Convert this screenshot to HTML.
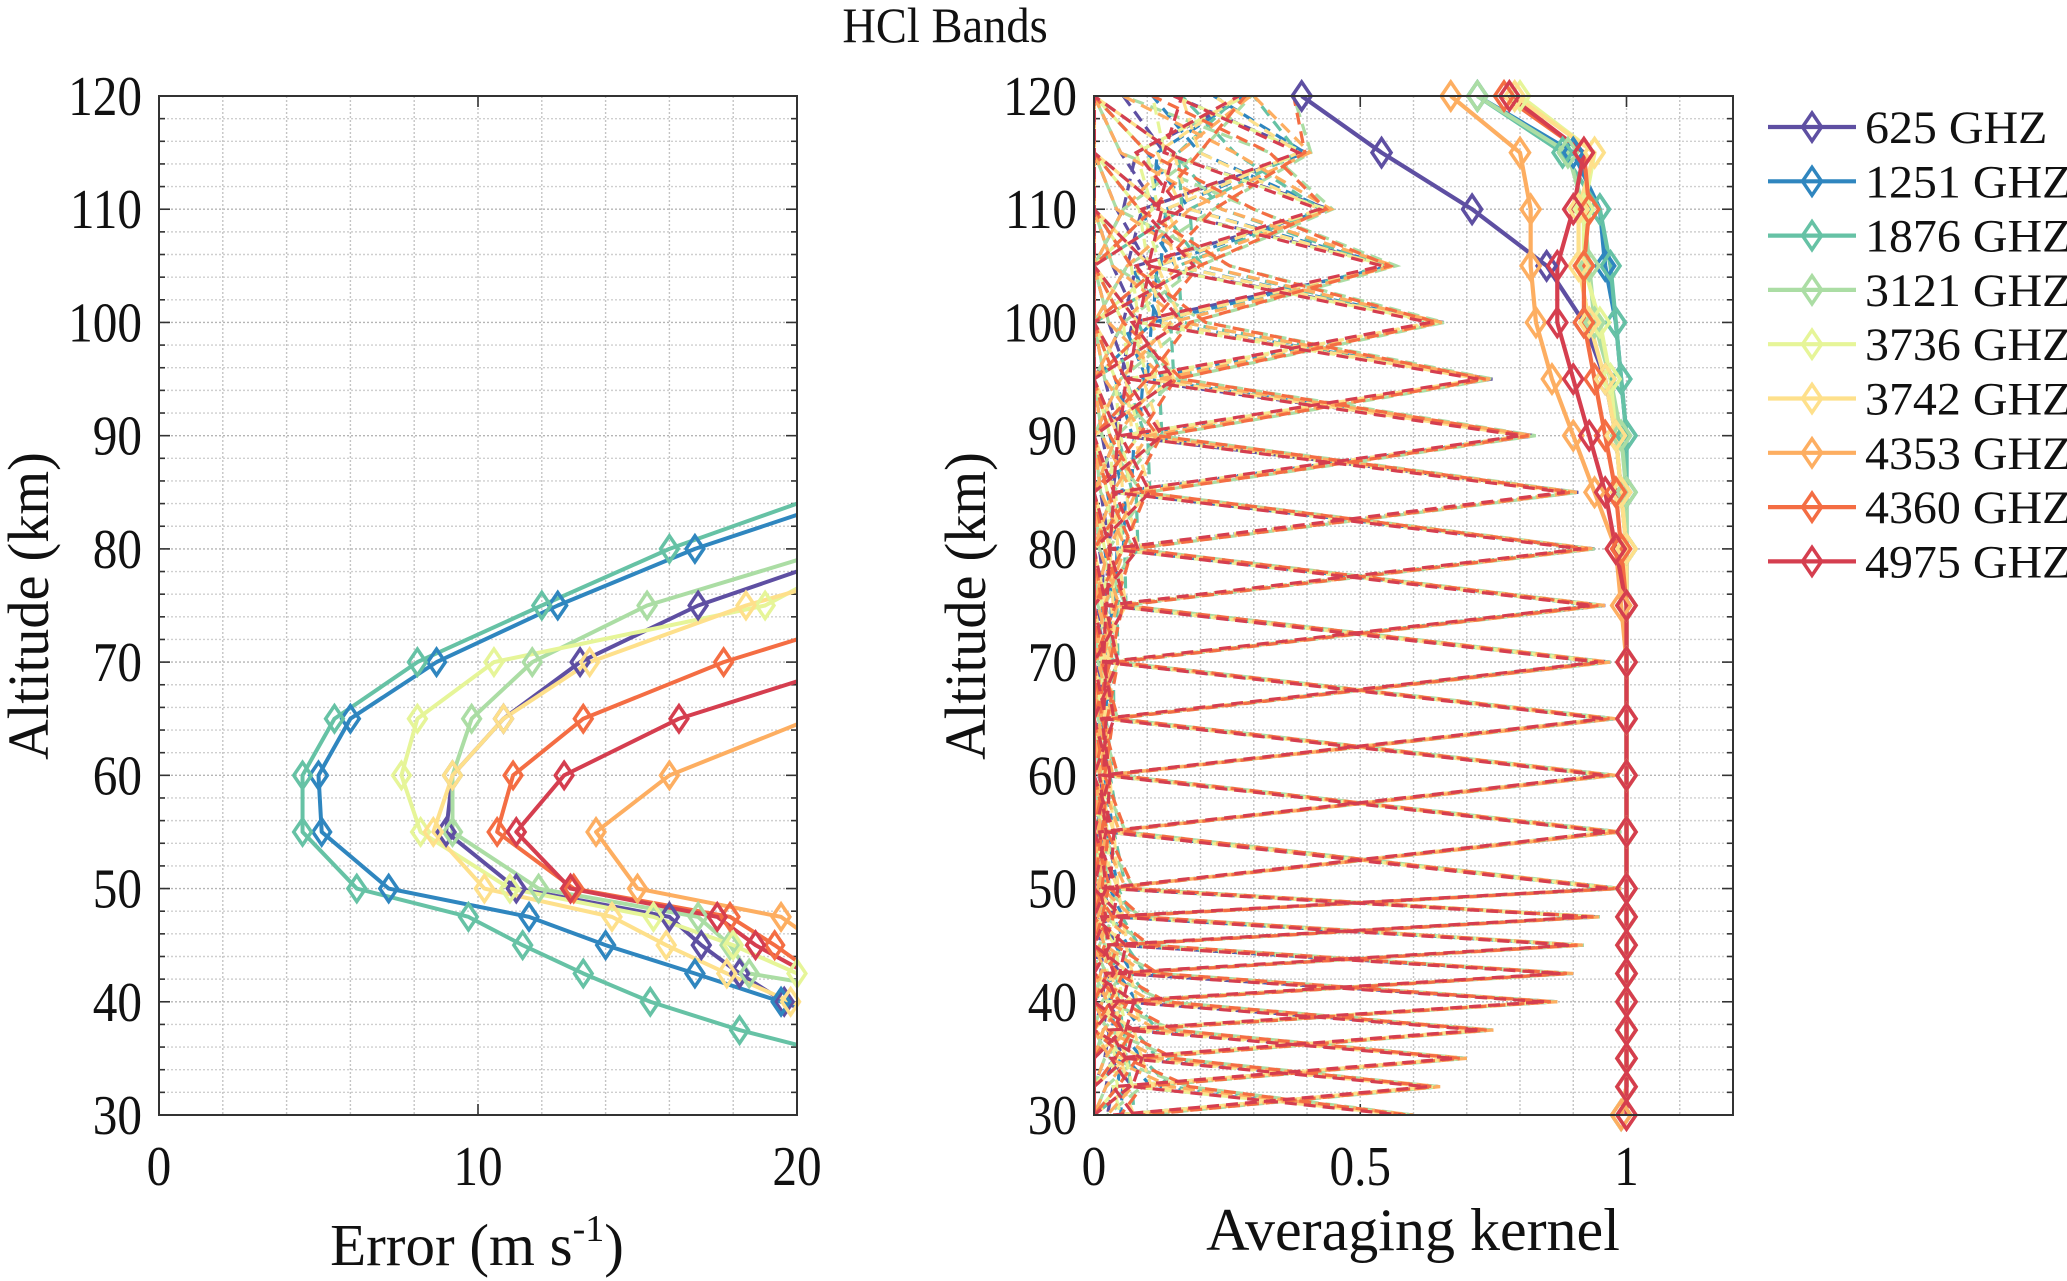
<!DOCTYPE html>
<html><head><meta charset="utf-8"><style>
html,body{margin:0;padding:0;background:#fff;}
svg{display:block;}
text{font-family:"Liberation Serif",serif;fill:#111;}
</style></head><body>
<svg id="chart" width="2067" height="1281" viewBox="0 0 2067 1281" xmlns="http://www.w3.org/2000/svg">
<defs>
<clipPath id="clipL"><rect x="159" y="96" width="638" height="1019"/></clipPath>
<clipPath id="clipR"><rect x="1094" y="96" width="639" height="1019"/></clipPath>
</defs>
<text x="0" y="0" font-size="50" text-anchor="middle" transform="translate(945,42) scale(0.93,1)">HCl Bands</text>
<g id="gL"></g>
<g id="gR"></g>
<g id="gLeg"></g>
</svg>
<script>
const NS="http://www.w3.org/2000/svg";
const seriesNames=["625 GHZ","1251 GHZ","1876 GHZ","3121 GHZ","3736 GHZ","3742 GHZ","4353 GHZ","4360 GHZ","4975 GHZ"];
const colors=["#5e4fa2","#2f86bf","#66c2a5","#abdda4","#e6f598","#fee08b","#fdae61","#f46d43","#d53e4f"];
// Left panel: error (m/s) at altitude (km); [alt, err]
const err625=[[78,20],[75,16.9],[70,13.2],[65,10.8],[60,9.2],[55,9.0],[50,11.2],[47.5,16.0],[45,17.0],[42.5,18.2],[40,19.6],[39.5,20]];
const err1251=[[83,20],[80,16.8],[75,12.5],[70,8.7],[65,6.0],[60,5.0],[55,5.1],[50,7.2],[47.5,11.6],[45,14.0],[42.5,16.8],[40,19.5],[39.7,20]];
const err1876=[[84,20],[80,16.0],[75,12.0],[70,8.1],[65,5.5],[60,4.5],[55,4.5],[50,6.2],[47.5,9.7],[45,11.4],[42.5,13.3],[40,15.4],[37.5,18.2],[36.2,20]];
const err3121=[[79,20],[75,15.3],[70,11.7],[65,9.8],[60,9.2],[55,9.2],[50,11.9],[47.5,16.9],[45,17.9],[42.5,18.5],[41.8,20]];
const err3736=[[76.5,20],[75,19.0],[70,10.5],[65,8.1],[60,7.6],[55,8.2],[50,11.0],[47.5,15.5],[45,18.0],[42.5,20]];
const err3742=[[76.3,20],[75,18.4],[70,13.5],[65,10.8],[60,9.2],[55,8.6],[50,10.2],[47.5,14.2],[45,15.9],[42.5,17.8],[40,19.8],[39.8,20]];
const err4353=[[64.5,20],[60,16.0],[55,13.7],[50,15.0],[47.5,19.5],[46.5,20]];
const err4360=[[72,20],[70,17.7],[65,13.3],[60,11.1],[55,10.6],[50,13.0],[47.5,17.9],[45,19.3],[43.6,20]];
const err4975=[[68.3,20],[65,16.3],[60,12.7],[55,11.2],[50,12.9],[47.5,17.5],[45,18.7],[43,20]];
const errSeries=[err625,err1251,err1876,err3121,err3736,err3742,err4353,err4360,err4975];
const errXTicks=[0,10,20];
const altTicks=[30,40,50,60,70,80,90,100,110,120];
// Right panel
const akAlts=[120,115,110,105,100,95,90,85,80,75,70,65,60,55,50,47.5,45,42.5,40,37.5,35,32.5,30];
const ak625=[0.39,0.54,0.71,0.85,0.92,0.96,0.98,0.99,1,1,1,1,1,1,1,1,1,1,1,1,1,1,0.99];
const ak1251=[0.72,0.90,0.95,0.96,0.98,0.99,1,1,1,1,1,1,1,1,1,1,1,1,1,1,1,1,0.99];
const ak1876=[0.72,0.88,0.95,0.97,0.98,0.99,1,1,1,1,1,1,1,1,1,1,1,1,1,1,1,1,0.99];
const ak3121=[0.72,0.89,0.92,0.93,0.94,0.97,0.99,1,1,1,1,1,1,1,1,1,1,1,1,1,1,1,0.99];
const ak3736=[0.80,0.94,0.92,0.92,0.95,0.97,0.98,0.99,1,1,1,1,1,1,1,1,1,1,1,1,1,1,0.99];
const ak3742=[0.79,0.94,0.91,0.91,0.93,0.96,0.98,0.99,1,1,1,1,1,1,1,1,1,1,1,1,1,1,0.99];
const ak4353=[0.67,0.80,0.82,0.82,0.83,0.86,0.90,0.94,0.98,0.99,1,1,1,1,1,1,1,1,1,1,1,1,0.99];
const ak4360=[0.77,0.92,0.93,0.92,0.92,0.94,0.96,0.98,0.99,1,1,1,1,1,1,1,1,1,1,1,1,1,1];
const ak4975=[0.78,0.92,0.90,0.87,0.87,0.90,0.93,0.96,0.98,1,1,1,1,1,1,1,1,1,1,1,1,1,1];
const akSeries=[ak625,ak1251,ak1876,ak3121,ak3736,ak3742,ak4353,ak4360,ak4975];
// peak value of each kernel row (dashed)
const rowPeaks=[0.30,0.41,0.45,0.57,0.66,0.75,0.83,0.91,0.94,0.96,0.97,0.98,0.98,0.99,0.99,0.95,0.92,0.90,0.87,0.75,0.70,0.65,0.60];
// off-diagonal side-lobe values of rows (upper/lower neighbours)
const rowLobes=[0.22,0.25,0.22,0.2,0.17,0.14,0.11,0.08,0.06,0.05,0.04,0.03,0.03,0.03,0.04,0.05,0.06,0.07,0.08,0.09,0.1,0.1,0.12];
const akXTicks=[0,0.5,1];

function el(tag,attrs,parent){const e=document.createElementNS(NS,tag);for(const k in attrs)e.setAttribute(k,attrs[k]);parent.appendChild(e);return e;}
function txt(parent,x,y,s,size,anchor,sx,rot){
  const t=el('text',{x:0,y:0,'font-size':size,'text-anchor':anchor,transform:`translate(${x},${y})`+(rot?` rotate(${rot})`:'')+` scale(${sx},1)`},parent);
  t.textContent=s;return t;
}
const Y0=96,Y1=1115;
const yS=a=>Y1-(a-30)/90*(Y1-Y0);
const LX0=159,LX1=797,RX0=1094,RX1=1733;
const xL=v=>LX0+v/20*(LX1-LX0);
const xR=v=>RX0+v/1.2*(RX1-RX0);
function diamond(x,y,c,parent,r){
  return el('path',{d:`M${x} ${y-r}L${x+r*0.68} ${y}L${x} ${y+r}L${x-r*0.68} ${y}Z`,fill:'none',stroke:c,'stroke-width':3.5},parent);
}
function axesFrame(g,x0,x1,xgrid,xfn,xticks,xfmt,ylabX,yTickX,nm){
  const grid=el('g',{},g);
  
  
  for(let a=32;a<120;a+=2){el('line',{x1:x0,x2:x1,y1:yS(a),y2:yS(a),stroke:a%10==0?'#b5b5b5':'#cfcfcf','stroke-width':1.4,'stroke-dasharray':'2 2'},grid);}
  xgrid.forEach(v=>{el('line',{x1:xfn(v),x2:xfn(v),y1:Y0,y2:Y1,stroke:'#c4c4c4','stroke-width':1.4,'stroke-dasharray':'2 2'},grid);});
  for(let a=32;a<120;a+=2){const L=a%10==0?11:6;el('line',{x1:x0,x2:x0+L,y1:yS(a),y2:yS(a),stroke:'#333','stroke-width':1.6},grid);el('line',{x1:x1,x2:x1-L,y1:yS(a),y2:yS(a),stroke:'#333','stroke-width':1.6},grid);}
  altTicks.forEach(a=>{const t=txt(g,yTickX,yS(a)+19,String(a),56,'end',0.88);
    });
  xticks.forEach(v=>{const t=txt(g,xfn(v),1185,String(v),56,'middle',0.88);
    
    el('line',{x1:xfn(v),x2:xfn(v),y1:Y1,y2:Y1-11,stroke:'#333','stroke-width':1.6},g);el('line',{x1:xfn(v),x2:xfn(v),y1:Y0,y2:Y0+11,stroke:'#333','stroke-width':1.6},g);});
  const yl=txt(g,ylabX,606,'Altitude (km)',58,'middle',0.97,-90);
  
}
// LEFT
const gL=document.getElementById('gL');
const errGrid=[];for(let v=2;v<20;v+=2)errGrid.push(v);
axesFrame(gL,LX0,LX1,errGrid,xL,errXTicks,v=>v,48,142,'error');
const xlL=el('text',{x:0,y:0,'font-size':59,'text-anchor':'middle',transform:'translate(477,1265)'},gL);

xlL.innerHTML='Error (m s<tspan dy="-24" font-size="38">-1</tspan><tspan dy="24">)</tspan>';
const clL=el('g',{'clip-path':'url(#clipL)'},gL);
errSeries.forEach((s,i)=>{
  const p=el('polyline',{points:s.map(d=>xL(d[1])+','+yS(d[0])).join(' '),fill:'none',stroke:colors[i],'stroke-width':4,'stroke-linejoin':'round'},clL);
  
  
  s.forEach(d=>{ if(d[0]%2.5===0){const m=diamond(xL(d[1]),yS(d[0]),colors[i],gL,13);
    }});
});
el('rect',{x:LX0,y:Y0,width:LX1-LX0,height:Y1-Y0,fill:'none',stroke:'#333','stroke-width':2},gL);
// RIGHT
const gR=document.getElementById('gR');
const akGrid=[];for(let k=1;k<12;k++)akGrid.push(k/10);
axesFrame(gR,RX0,RX1,akGrid,xR,akXTicks,v=>v,985,1077,'kernel');
const xlR=txt(gR,1413,1250,'Averaging kernel',60,'middle',1);

const clR=el('g',{'clip-path':'url(#clipR)'},gR);
// dashed kernel rows
seriesNames.forEach((n,i)=>{
  const gs=el('g',{},clR);
  
  
  akAlts.forEach((a,j)=>{
    const pts=[];
    akAlts.forEach((b,k)=>{
      let v;
      if(k===j) v=rowPeaks[j]*(0.94+0.06*akSeries[i][j]) - (i%3)*0.012;
      else if(Math.abs(k-j)===1) v=rowLobes[j]*(0.6+(i%4)*0.3)*(k<j?1:0.6);
      else if(Math.abs(k-j)===2) v=rowLobes[j]*0.5*(0.5+(i%3)*0.5);
      else v=0;
      pts.push(xR(Math.max(0,v))+','+yS(b));
    });
    const pl=el('polyline',{points:pts.join(' '),fill:'none',stroke:colors[i],'stroke-width':3.2,'stroke-dasharray':'12 7','stroke-dashoffset':i*3},gs);
    
    
  });
});
// solid AK
akSeries.forEach((s,i)=>{
  const p=el('polyline',{points:s.map((v,k)=>xR(v)+','+yS(akAlts[k])).join(' '),fill:'none',stroke:colors[i],'stroke-width':4.2,'stroke-linejoin':'round'},clR);
  
  
  s.forEach((v,k)=>{const m=diamond(xR(v),yS(akAlts[k]),colors[i],gR,14);
    });
});
el('rect',{x:RX0,y:Y0,width:RX1-RX0,height:Y1-Y0,fill:'none',stroke:'#333','stroke-width':2},gR);
// Legend
const gLeg=document.getElementById('gLeg');
seriesNames.forEach((n,i)=>{
  const y=127+i*54.3;
  const ge=el('g',{},gLeg);
  
  
  el('line',{x1:1768,x2:1856,y1:y,y2:y,stroke:colors[i],'stroke-width':4.2},ge);
  diamond(1812,y,colors[i],ge,14);
  const t=txt(ge,1865,y+16,n,47,'start',1.02);
});
</script>
</body></html>
